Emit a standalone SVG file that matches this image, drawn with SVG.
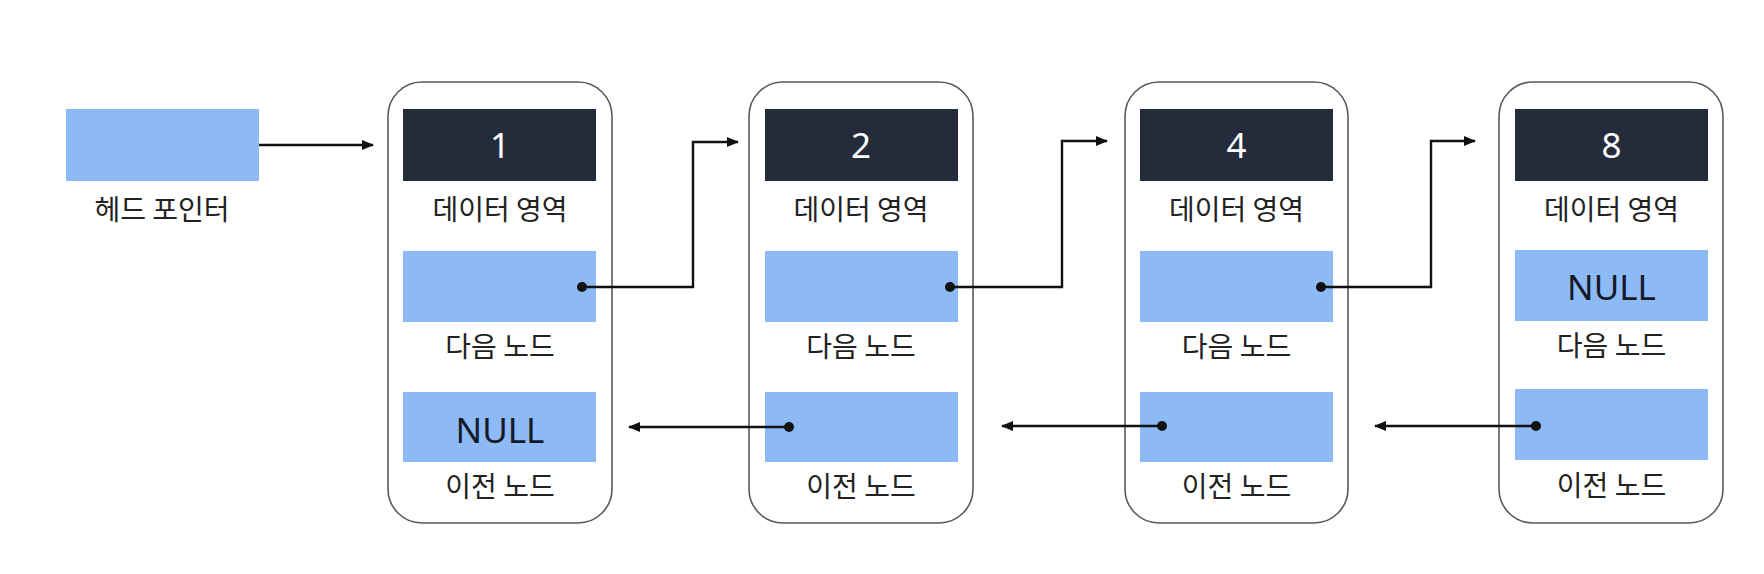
<svg xmlns="http://www.w3.org/2000/svg" width="1764" height="574" viewBox="0 0 1764 574">
  <style>
    .frame { fill: #ffffff; stroke: #5a5a5a; stroke-width: 1.6; }
    .data { fill: #242b3b; }
    .slot { fill: #8db9f5; }
    .lbl { font-family: "Noto Sans CJK KR", "Noto Sans", sans-serif; font-size: 28px; fill: #222222; text-anchor: middle; }
    .num { font-family: "Noto Sans", "Noto Sans CJK KR", sans-serif; font-size: 35px; fill: #ffffff; text-anchor: middle; }
    .null { font-family: "Noto Sans", "Noto Sans CJK KR", sans-serif; font-size: 35px; fill: #141a28; text-anchor: middle; }
    .wire { fill: none; stroke: #111111; stroke-width: 2.4; }
    .dot { fill: #111111; }
  </style>
  <defs>
    <marker id="arrow" viewBox="0 0 12 10" refX="11" refY="5" markerWidth="12" markerHeight="10" markerUnits="userSpaceOnUse" orient="auto">
      <path d="M0,0 L12,5 L0,10 Z" fill="#111111"/>
    </marker>
  </defs>
  <rect width="1764" height="574" fill="#ffffff"/>

  <g id="head">
    <rect class="slot" x="66" y="109" width="193" height="72"/>
    <text class="lbl" x="162" y="220">헤드 포인터</text>
  </g>

  <g id="node1">
    <rect class="frame" x="388" y="82" width="224" height="441" rx="34" ry="34"/>
    <rect class="data" x="403" y="109" width="193" height="72"/>
    <text class="num" x="500" y="158">1</text>
    <text class="lbl" x="500" y="220">데이터 영역</text>
    <rect class="slot" x="403" y="251" width="193" height="71"/>
    <text class="lbl" x="500" y="357">다음 노드</text>
    <rect class="slot" x="403" y="392" width="193" height="70"/>
    <text class="null" x="500" y="443">NULL</text>
    <text class="lbl" x="500" y="497">이전 노드</text>
  </g>

  <g id="node2">
    <rect class="frame" x="749" y="82" width="224" height="441" rx="34" ry="34"/>
    <rect class="data" x="765" y="109" width="193" height="72"/>
    <text class="num" x="861" y="158">2</text>
    <text class="lbl" x="861" y="220">데이터 영역</text>
    <rect class="slot" x="765" y="251" width="193" height="71"/>
    <text class="lbl" x="861" y="357">다음 노드</text>
    <rect class="slot" x="765" y="392" width="193" height="70"/>
    <text class="lbl" x="861" y="497">이전 노드</text>
  </g>

  <g id="node3">
    <rect class="frame" x="1125" y="82" width="223" height="441" rx="34" ry="34"/>
    <rect class="data" x="1140" y="109" width="193" height="72"/>
    <text class="num" x="1236.5" y="158">4</text>
    <text class="lbl" x="1236.5" y="220">데이터 영역</text>
    <rect class="slot" x="1140" y="251" width="193" height="71"/>
    <text class="lbl" x="1236.5" y="357">다음 노드</text>
    <rect class="slot" x="1140" y="392" width="193" height="70"/>
    <text class="lbl" x="1236.5" y="497">이전 노드</text>
  </g>

  <g id="node4">
    <rect class="frame" x="1499" y="82" width="224" height="441" rx="34" ry="34"/>
    <rect class="data" x="1515" y="109" width="193" height="72"/>
    <text class="num" x="1611.5" y="158">8</text>
    <text class="lbl" x="1611.5" y="220">데이터 영역</text>
    <rect class="slot" x="1515" y="250" width="193" height="71"/>
    <text class="null" x="1611.5" y="300">NULL</text>
    <text class="lbl" x="1611.5" y="356">다음 노드</text>
    <rect class="slot" x="1515" y="389" width="193" height="71"/>
    <text class="lbl" x="1611.5" y="496">이전 노드</text>
  </g>

  <g id="connectors">
    <path class="wire" d="M259,145 H373" marker-end="url(#arrow)"/>
    <path class="wire" d="M582,287 H693 V142 H738" marker-end="url(#arrow)"/>
    <circle class="dot" cx="582" cy="287" r="5"/>
    <path class="wire" d="M950,287 H1062 V141 H1107" marker-end="url(#arrow)"/>
    <circle class="dot" cx="950" cy="287" r="5"/>
    <path class="wire" d="M1321,287 H1431 V141 H1475" marker-end="url(#arrow)"/>
    <circle class="dot" cx="1321" cy="287" r="5"/>
    <path class="wire" d="M789,427 H629" marker-end="url(#arrow)"/>
    <circle class="dot" cx="789" cy="427" r="5"/>
    <path class="wire" d="M1162,426 H1002" marker-end="url(#arrow)"/>
    <circle class="dot" cx="1162" cy="426" r="5"/>
    <path class="wire" d="M1536,426 H1375" marker-end="url(#arrow)"/>
    <circle class="dot" cx="1536" cy="426" r="5"/>
  </g>
</svg>
